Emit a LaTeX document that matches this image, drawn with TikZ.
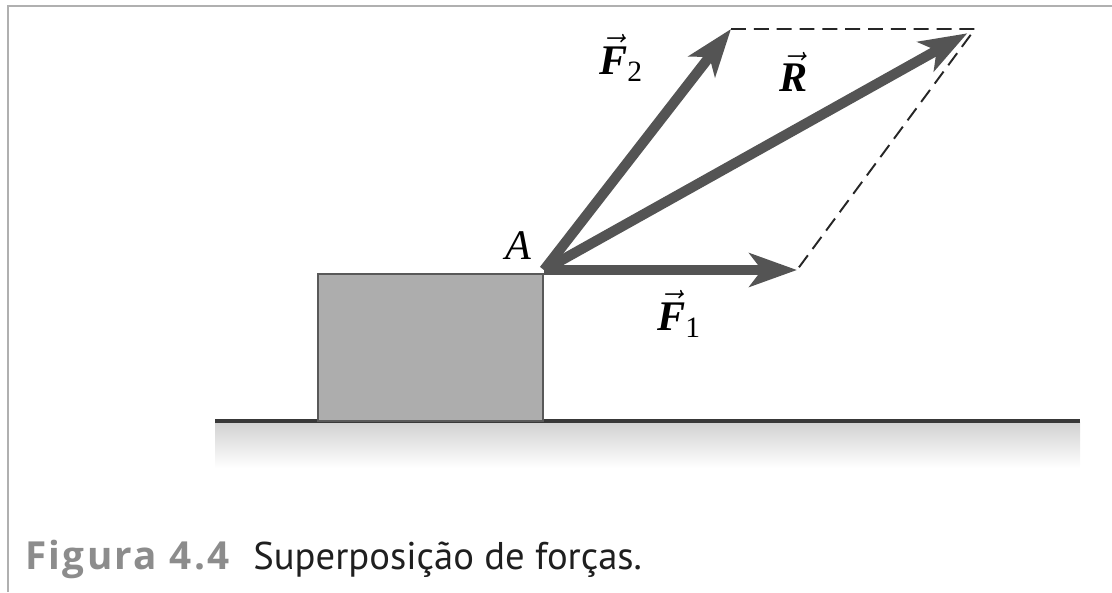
\documentclass[tikz,border=0pt]{standalone}
\usepackage{amsmath}
\usepackage{fontspec}
\setmainfont{Liberation Serif}
\newfontfamily\capfont{PT Sans}
\newfontfamily\capbold[LetterSpace=6]{Open Sans}
\usetikzlibrary{arrows.meta}

\begin{document}
\begin{tikzpicture}[
  x=0.02cm, y=-0.02cm,
  force/.style={line width=5.8pt, draw=black!67, -{Stealth[length=27pt, width=19pt, inset=7pt]}},
  guide/.style={line width=1.1pt, draw=black!85, dash pattern=on 8.5pt off 4.5pt},
  block/.style={draw=black!65, line width=1.3pt, fill=black!32, minimum width=4.5cm, minimum height=2.94cm, inner sep=0pt},
  lbl/.style={font=\fontsize{24}{24}\selectfont, inner sep=0pt},
  caption/.style={font=\capfont\fontsize{22}{22}\selectfont, inner sep=0pt, anchor=base west}
]
\useasboundingbox (0,0) rectangle (1112,592);

% frame
\draw[line width=1.7pt, black!31] (8,592) |- (1112,6);

% ground
\shade[top color=black!18, bottom color=white] (215,422) rectangle (1080,468);
\draw[line width=1.8pt, black!78] (215,421) -- (1080,421);

% block and forces
\node[block] (crate) at (430.5,347.5) {};
\coordinate (A) at (544,270);
\coordinate (tipF1) at (797,270);
\coordinate (tipF2) at (731,29);
\coordinate (tipR) at (975,29);

\draw[guide] (tipF2) -- (tipR) -- (tipF1);

\draw[force] (A) -- (tipF1);
\draw[force] (A) -- (tipF2);
\draw[force, shorten >=5pt] (A) -- (tipR);

\node[lbl] (labA) at (518,246) {\itshape A};
\node[lbl] (labF2) at (621,58) {$\vec{\text{\bfseries\itshape F}}_{\text{2}}$};
\node[lbl] (labR) at (794,72) {$\vec{\text{\bfseries\itshape R}}$};
\node[lbl] (labF1) at (679,314) {$\vec{\text{\bfseries\itshape F}}_{\text{1}}$};

% caption
\node[caption, font=\capbold\fontsize{22}{22}\selectfont\bfseries, text=black!45] (capnum) at (25,569) {Figura 4.4};
\node[caption, text=black!88] (captext) at (253,569) {Superposição de forças.};

\end{tikzpicture}
\end{document}
